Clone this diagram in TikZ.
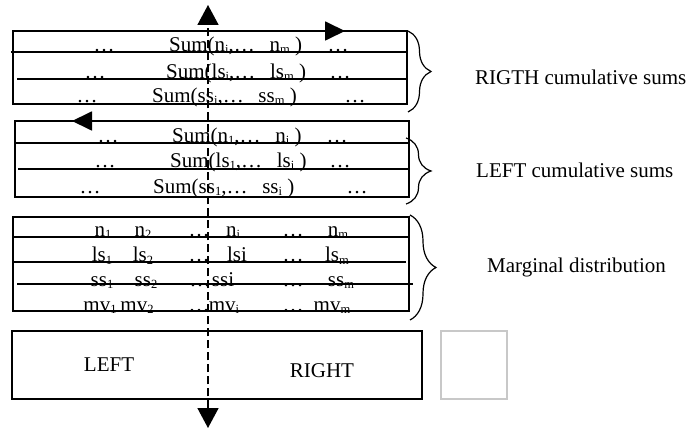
\documentclass[tikz,border=0pt]{standalone}
\usepackage{fontspec}
\setmainfont{Liberation Serif}
\usetikzlibrary{arrows.meta,decorations.pathreplacing}
\newcommand{\sbs}[1]{\raisebox{-2pt}{\fontsize{12.5}{12.5}\selectfont #1}}
\begin{document}
\begin{tikzpicture}[x=1pt,y=-1pt,
  boxline/.style={line width=1.3pt},
  rowline/.style={line width=1.1pt},
  txt/.style={inner sep=0pt, anchor=base, font=\fontsize{21}{24}\selectfont},
  txtw/.style={txt, anchor=base west},
  lbl/.style={inner sep=0pt, anchor=west, font=\fontsize{21}{24}\selectfont},
  bracestyle/.style={line width=1.2pt, decorate, decoration={brace, amplitude=#1}},
  dashline/.style={line width=1.6pt, dash pattern=on 8pt off 4pt,
     {Triangle[width=21pt,length=20pt]}-{Triangle[width=21pt,length=20pt]}},
  harrow/.style={line width=1.8pt, -{Triangle[width=19pt,length=20pt]}}]
\useasboundingbox (0,0) rectangle (688,430);

% ---- box 1: right cumulative sums
\draw[boxline] (13,31) rectangle (407,104);
\draw[rowline] (11,52) -- (407,52);
\draw[rowline] (17,79) -- (407,79);
\node[txt] (r1a) at (104,52) {…};
\node[txtw] (r1b) at (169,52) {Sum(n\sbs{i},…\hspace{0.7em}n\sbs{m} )};
\node[txt] (r1c) at (338,52) {…};
\node[txt] (r2a) at (95,79) {…};
\node[txtw] (r2b) at (166,79) {Sum(ls\sbs{i},…\hspace{0.7em}ls\sbs{m} )};
\node[txt] (r2c) at (340,79) {…};
\node[txt] (r3a) at (87,103) {…};
\node[txtw] (r3b) at (152,103) {Sum(ss\sbs{i},…\hspace{0.7em}ss\sbs{m} )};
\node[txt] (r3c) at (355,103) {…};

% ---- box 2: left cumulative sums
\draw[boxline] (15,121) rectangle (409,197);
\draw[rowline] (15,143) -- (409,143);
\draw[rowline] (18,169) -- (409,169);
\node[txt] (l1a) at (108,143) {…};
\node[txtw] (l1b) at (172,143) {Sum(n\sbs{1},…\hspace{0.7em}n\sbs{i} )};
\node[txt] (l1c) at (337,143) {…};
\node[txt] (l2a) at (105,168) {…};
\node[txtw] (l2b) at (170,168) {Sum(ls\sbs{1},…\hspace{0.7em}ls\sbs{i} )};
\node[txt] (l2c) at (340,168) {…};
\node[txt] (l3a) at (90,194) {…};
\node[txtw] (l3b) at (153,194) {Sum(ss\sbs{1},…\hspace{0.7em}ss\sbs{i} )};
\node[txt] (l3c) at (357,194) {…};

% ---- box 3: marginal distribution
\draw[boxline] (13,217) rectangle (409,311);
\draw[rowline] (13,237) -- (409,237);
\draw[rowline] (13,262) -- (406,262);
\draw[rowline] (17,284) -- (413,284);
\node[txt] (m11) at (103,237) {n\sbs{1}};
\node[txt] (m12) at (143,237) {n\sbs{2}};
\node[txt] (m13) at (199,237) {…};
\node[txt] (m14) at (233,237) {n\sbs{i}};
\node[txt] (m15) at (293,237) {…};
\node[txt] (m16) at (338,237) {n\sbs{m}};
\node[txt] (m21) at (102,262) {ls\sbs{1}};
\node[txt] (m22) at (143,262) {ls\sbs{2}};
\node[txt] (m23) at (199,262) {…};
\node[txt] (m24) at (237,262) {lsi};
\node[txt] (m25) at (293,262) {…};
\node[txt] (m26) at (337,262) {ls\sbs{m}};
\node[txt] (m31) at (102,287) {ss\sbs{1}};
\node[txt] (m32) at (146,287) {ss\sbs{2}};
\node[txt] (m33) at (200,287) {…};
\node[txt] (m34) at (223,287) {ssi};
\node[txt] (m35) at (293,287) {…};
\node[txt] (m36) at (341,287) {ss\sbs{m}};
\node[txt] (m41) at (100,312) {mv\sbs{1}};
\node[txt] (m42) at (137,312) {mv\sbs{2}};
\node[txt] (m43) at (199,312) {…};
\node[txt] (m44) at (224,312) {mv\sbs{i}};
\node[txt] (m45) at (293,312) {…};
\node[txt] (m46) at (332,312) {mv\sbs{m}};

% ---- box 4
\draw[boxline] (12,331) rectangle (422,399);
\node[txt] (left) at (109,371) {LEFT};
\node[txt] (right) at (322,377) {RIGHT};
\draw[line width=1.2pt, draw={rgb,255:red,200;green,200;blue,200}] (441,331) rectangle (507,399);

% ---- braces and labels
\coordinate (b1t) at (408,31);
\coordinate (b1b) at (408,112);
\coordinate (b2t) at (406,138);
\coordinate (b2b) at (406,204);
\coordinate (b3t) at (410,215);
\coordinate (b3b) at (410,320);
\draw[bracestyle=23pt] (b1t) -- (b1b);
\draw[bracestyle=25pt] (b2t) -- (b2b);
\draw[bracestyle=26pt] (b3t) -- (b3b);
\node[lbl] (lab1) at (475,77) {RIGTH cumulative sums};
\node[lbl] (lab2) at (476,170) {LEFT cumulative sums};
\node[lbl] (lab3) at (487,267) {Marginal distribution};

% ---- arrows
\coordinate (vt) at (208,5);
\coordinate (vb) at (208,428);
\draw[dashline] (vb) -- (vt);
\coordinate (ra0) at (208,31);
\coordinate (ra1) at (345,31);
\draw[harrow] (ra0) -- (ra1);
\coordinate (la0) at (208,121);
\coordinate (la1) at (72,121);
\draw[harrow] (la0) -- (la1);
\end{tikzpicture}
\end{document}
